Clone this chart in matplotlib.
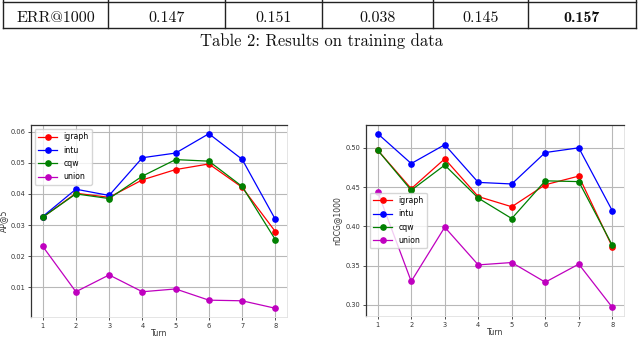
import matplotlib
matplotlib.use("Agg")
import matplotlib.pyplot as plt
from matplotlib.lines import Line2D

turns = [1, 2, 3, 4, 5, 6, 7, 8]
series_names = ["igraph", "intu", "cqw", "union"]
series_colors = ["r", "b", "g", "m"]

ap5_igraph = [0.0325, 0.0402, 0.0389, 0.0445, 0.0478, 0.0496, 0.0421, 0.0279]
ap5_intu = [0.0327, 0.0415, 0.0395, 0.0516, 0.0531, 0.0593, 0.0511, 0.0318]
ap5_cqw = [0.0325, 0.0400, 0.0385, 0.0457, 0.0510, 0.0505, 0.0424, 0.0253]
ap5_union = [0.0232, 0.0086, 0.0140, 0.0086, 0.0095, 0.0059, 0.0057, 0.0033]

ndcg_igraph = [0.497, 0.448, 0.486, 0.438, 0.425, 0.453, 0.464, 0.374]
ndcg_intu = [0.518, 0.480, 0.504, 0.456, 0.454, 0.494, 0.500, 0.420]
ndcg_cqw = [0.497, 0.446, 0.478, 0.436, 0.410, 0.458, 0.457, 0.376]
ndcg_union = [0.444, 0.330, 0.399, 0.351, 0.354, 0.329, 0.352, 0.297]

ap5_ticks = [0.01, 0.02, 0.03, 0.04, 0.05, 0.06]
ndcg_ticks = [0.30, 0.35, 0.40, 0.45, 0.50]

table_row = ["ERR@1000", "0.147", "0.151", "0.038", "0.145", "0.157"]
caption = "Table 2: Results on training data"

W, H = 640, 337
fig = plt.figure(figsize=(6.4, 3.37), dpi=100)


def fx(px):
    return px / W


def fy(py):
    return 1 - py / H


# ---- table fragment ----
col_edges = [3, 108, 225, 322, 433, 528, 636]
lc = "#222222"
for yy in [1.5, 28]:
    fig.add_artist(Line2D([fx(3), fx(636)], [fy(yy), fy(yy)], color=lc, lw=1.0))
for xx in col_edges:
    fig.add_artist(Line2D([fx(xx), fx(xx)], [fy(0), fy(28)], color=lc, lw=1.0))
for i, txt in enumerate(table_row):
    cx = (col_edges[i] + col_edges[i + 1]) / 2
    fam = ["cmb10", "DejaVu Serif"] if i == len(table_row) - 1 else ["cmr10", "DejaVu Serif"]
    fig.text(fx(cx), fy(22), txt, ha="center", va="baseline", fontsize=11.5,
             family=fam, color="#111111")
fig.text(fx(321), fy(46), caption, ha="center", va="baseline", fontsize=12,
         family=["cmr10", "DejaVu Serif"], color="#111111")


def style_axes(ax):
    ax.grid(True, color="#b8b8b8", lw=0.8)
    ax.set_axisbelow(True)
    for s in ["top", "left"]:
        ax.spines[s].set_color("#333333")
        ax.spines[s].set_linewidth(0.9)
    for s in ["bottom", "right"]:
        ax.spines[s].set_color("#e0e0e0")
        ax.spines[s].set_linewidth(0.6)
    ax.tick_params(labelsize=4.8, colors="#333333", length=2.5, width=0.6, pad=1.5)
    ax.set_xticks(turns)


leg_kw = dict(fontsize=5.6, frameon=True, handlelength=2.4, borderpad=0.45,
              labelspacing=0.55, edgecolor="#cccccc")

# ---- left plot ----
ax1 = fig.add_axes([fx(31), fy(317), fx(287) - fx(31), fy(125) - fy(317)])
for vals, name, c in zip([ap5_igraph, ap5_intu, ap5_cqw, ap5_union], series_names, series_colors):
    ax1.plot(turns, vals, color=c, marker="o", ms=3.8, lw=0.9, label=name)
style_axes(ax1)
ax1.set_yticks(ap5_ticks)
ax1.set_yticklabels([f"{t:.2f}" for t in ap5_ticks])
ax1.set_xlabel("Turn", fontsize=5.5, labelpad=0.5, color="#333333")
ax1.set_ylabel("AP@5", fontsize=5.5, labelpad=2, color="#333333")
ax1.legend(loc="upper left", **leg_kw)

# ---- right plot ----
ax2 = fig.add_axes([fx(366), fy(316), fx(624) - fx(366), fy(125) - fy(316)])
for vals, name, c in zip([ndcg_igraph, ndcg_intu, ndcg_cqw, ndcg_union], series_names, series_colors):
    ax2.plot(turns, vals, color=c, marker="o", ms=3.8, lw=0.9, label=name)
style_axes(ax2)
ax2.set_yticks(ndcg_ticks)
ax2.set_yticklabels([f"{t:.2f}" for t in ndcg_ticks])
ax2.set_xlabel("Turn", fontsize=5.5, labelpad=0.5, color="#333333")
ax2.set_ylabel("nDCG@1000", fontsize=5.5, labelpad=3, color="#333333")
ax2.legend(loc="center left", **leg_kw)

fig.savefig("out.png", dpi=100)
